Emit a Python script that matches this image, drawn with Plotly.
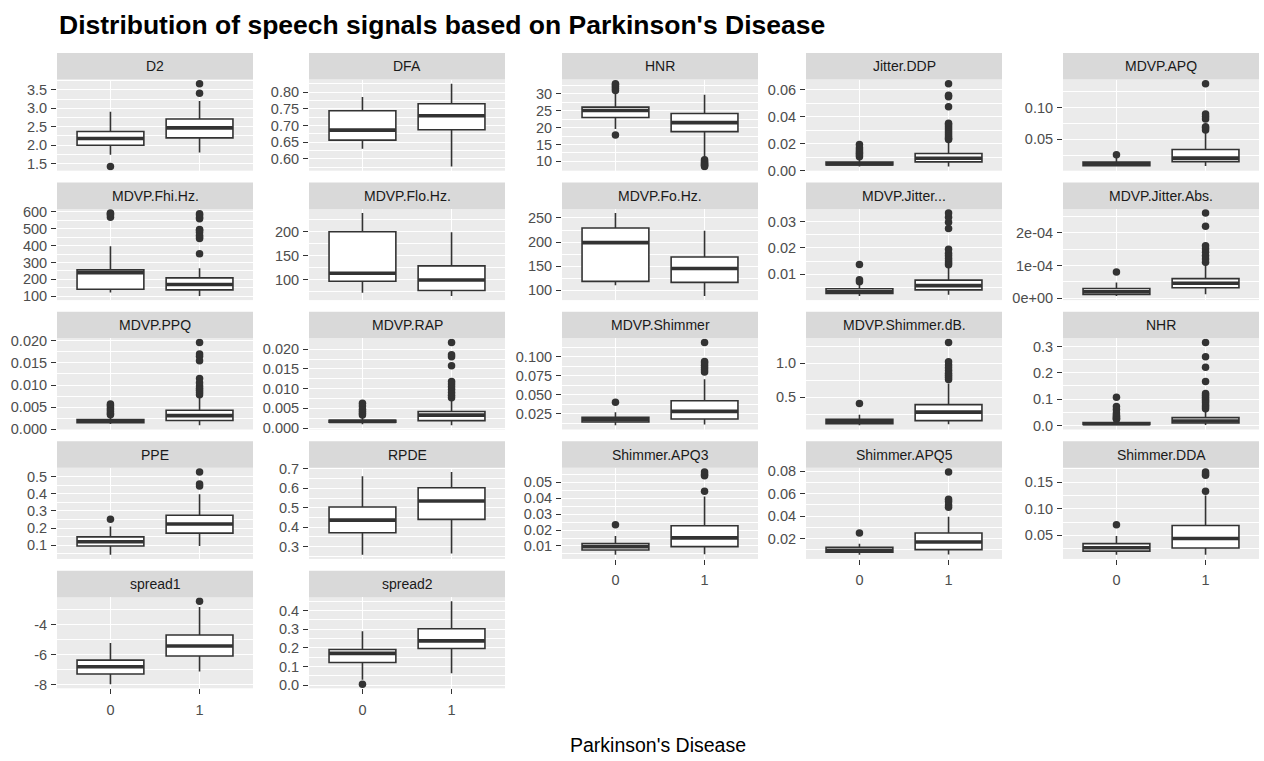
import plotly.graph_objects as go

# Speech features (facet order) and summary statistics per Parkinson's status
features = [
    "D2", "DFA", "HNR", "Jitter.DDP", "MDVP.APQ",
    "MDVP.Fhi.Hz.", "MDVP.Flo.Hz.", "MDVP.Fo.Hz.", "MDVP.Jitter...", "MDVP.Jitter.Abs.",
    "MDVP.PPQ", "MDVP.RAP", "MDVP.Shimmer", "MDVP.Shimmer.dB.", "NHR",
    "PPE", "RPDE", "Shimmer.APQ3", "Shimmer.APQ5", "Shimmer.DDA",
    "spread1", "spread2",
]
status_labels = ["0", "1"]

# status 0 (healthy)
h_low = [1.74, 0.630, 19.6, 0.0030, 0.0072, 123, 72, 110.7, 0.00178, 7e-6,
         0.0012, 0.0010, 0.0095, 0.085, 0.0007, 0.045, 0.257, 0.0045, 0.0057, 0.0136,
         -7.96, 0.030]
h_q1 = [2.00, 0.656, 23.0, 0.0042, 0.0085, 142, 96.4, 118.6, 0.0027, 1.2e-5,
        0.0015, 0.0015, 0.0140, 0.110, 0.0040, 0.096, 0.371, 0.0075, 0.0080, 0.0205,
        -7.28, 0.122]
h_med = [2.18, 0.686, 25.1, 0.0049, 0.0110, 239, 113, 198.9, 0.0034, 2.0e-5,
         0.0019, 0.0017, 0.0170, 0.145, 0.0066, 0.121, 0.436, 0.0096, 0.0097, 0.0269,
         -6.80, 0.171]
h_q3 = [2.37, 0.744, 26.1, 0.0063, 0.0142, 256, 200, 229.1, 0.0045, 3.0e-5,
        0.0022, 0.0020, 0.0200, 0.175, 0.0110, 0.149, 0.504, 0.0116, 0.0124, 0.0346,
        -6.36, 0.192]
h_high = [2.91, 0.785, 30.4, 0.0093, 0.0205, 396, 239.2, 260.1, 0.0066, 4.8e-5,
          0.0029, 0.0028, 0.0267, 0.240, 0.0210, 0.209, 0.663, 0.0162, 0.0156, 0.0487,
          -5.22, 0.289]
h_out = [
    [1.42], [], [17.8, 31.0, 31.6, 32.2, 32.7, 33.05],
    [0.0103, 0.0115, 0.0128, 0.0140, 0.0155, 0.0170, 0.0194], [0.0258],
    [568, 580, 588, 592], [], [], [0.0072, 0.0079, 0.0137], [8.0e-5],
    [0.0033, 0.0036, 0.0040, 0.0045, 0.0049, 0.0054, 0.0057],
    [0.0033, 0.0038, 0.0043, 0.0048, 0.0056, 0.0063], [0.0402], [0.405],
    [0.024, 0.027, 0.030, 0.035, 0.040, 0.048, 0.061, 0.072, 0.107],
    [0.252], [], [0.0233], [0.0250], [0.070],
    [], [0.0063],
]

# status 1 (Parkinson's)
p_low = [1.80, 0.577, 11.2, 0.0031, 0.0080, 102, 65.5, 88.3, 0.0022, 1.2e-5,
         0.0009, 0.0007, 0.0105, 0.100, 0.0023, 0.096, 0.263, 0.0049, 0.0060, 0.0136,
         -7.12, 0.065]
p_q1 = [2.20, 0.687, 18.8, 0.0065, 0.0150, 138, 77, 116.5, 0.0041, 3.2e-5,
        0.0020, 0.0019, 0.0180, 0.155, 0.0095, 0.171, 0.440, 0.0096, 0.0103, 0.0263,
        -6.08, 0.197]
p_med = [2.47, 0.729, 21.5, 0.0092, 0.0205, 170, 99, 145.2, 0.0057, 4.6e-5,
         0.0031, 0.0033, 0.0280, 0.280, 0.0170, 0.224, 0.535, 0.0151, 0.0170, 0.0442,
         -5.42, 0.238]
p_q3 = [2.71, 0.765, 24.2, 0.0127, 0.0340, 209, 128.6, 169.1, 0.0078, 6.0e-5,
        0.0043, 0.0042, 0.0420, 0.390, 0.0300, 0.275, 0.603, 0.0227, 0.0250, 0.0686,
        -4.68, 0.303]
p_high = [3.20, 0.825, 29.8, 0.0215, 0.0600, 266, 199, 223.4, 0.0128, 1.03e-4,
          0.0072, 0.0071, 0.0703, 0.700, 0.058, 0.397, 0.685, 0.0410, 0.0396, 0.125,
          -2.82, 0.450]
p_out = [
    [3.41, 3.67], [], [10.5, 10.0, 9.6, 9.3, 9.0, 8.8, 8.44],
    [0.0230, 0.0240, 0.0250, 0.0265, 0.0280, 0.0295, 0.0310, 0.0325, 0.0340, 0.0350,
     0.0474, 0.0547, 0.0559, 0.0644],
    [0.0650, 0.0680, 0.0700, 0.0820, 0.0860, 0.0900, 0.1378],
    [351, 442, 450, 461, 478, 490, 495, 558, 566, 581, 588], [], [],
    [0.0136, 0.0143, 0.0150, 0.0160, 0.0170, 0.0180, 0.0195, 0.0274, 0.0297, 0.0316, 0.0332],
    [1.1e-4, 1.2e-4, 1.3e-4, 1.4e-4, 1.5e-4, 1.6e-4, 2.2e-4, 2.6e-4],
    [0.0078, 0.0083, 0.0088, 0.0093, 0.0098, 0.0105, 0.0115, 0.0155, 0.0165, 0.0170, 0.0196],
    [0.0077, 0.0083, 0.0090, 0.0098, 0.0105, 0.0112, 0.0118, 0.0158, 0.0181, 0.0186, 0.0217],
    [0.080, 0.083, 0.086, 0.089, 0.092, 0.094, 0.119],
    [0.76, 0.79, 0.82, 0.85, 0.89, 0.93, 0.97, 1.02, 1.302],
    [0.064, 0.071, 0.078, 0.086, 0.093, 0.100, 0.107, 0.115, 0.122, 0.167, 0.221, 0.261, 0.315],
    [0.445, 0.457, 0.527], [], [0.0443, 0.0540, 0.0550, 0.0565],
    [0.0480, 0.0500, 0.0530, 0.0550, 0.0794], [0.133, 0.163, 0.166, 0.1694],
    [-2.434], [],
]

# y-axis tick labels for each facet
tick_labels = [
    ["1.5", "2.0", "2.5", "3.0", "3.5"],
    ["0.60", "0.65", "0.70", "0.75", "0.80"],
    ["10", "15", "20", "25", "30"],
    ["0.00", "0.02", "0.04", "0.06"],
    ["0.05", "0.10"],
    ["100", "200", "300", "400", "500", "600"],
    ["100", "150", "200"],
    ["100", "150", "200", "250"],
    ["0.01", "0.02", "0.03"],
    ["0e+00", "1e-04", "2e-04"],
    ["0.000", "0.005", "0.010", "0.015", "0.020"],
    ["0.000", "0.005", "0.010", "0.015", "0.020"],
    ["0.025", "0.050", "0.075", "0.100"],
    ["0.5", "1.0"],
    ["0.0", "0.1", "0.2", "0.3"],
    ["0.1", "0.2", "0.3", "0.4", "0.5"],
    ["0.3", "0.4", "0.5", "0.6", "0.7"],
    ["0.01", "0.02", "0.03", "0.04", "0.05"],
    ["0.02", "0.04", "0.06", "0.08"],
    ["0.05", "0.10", "0.15"],
    ["-8", "-6", "-4"],
    ["0.0", "0.1", "0.2", "0.3", "0.4"],
]

# ---- page geometry (pixels) ----
W, H = 1264, 761
NCOL = 5
col_left = [57, 309, 562, 806, 1063]
panel_w = 196
row_pitch = 132
first_row_top = 47
strip_h = 27
panel_h = 93
box_width = 0.75

FONT = "Liberation Sans, Arial, Helvetica, sans-serif"
INK = "#333333"
TICK_SIZE = 14.5
STRIP_SIZE = 14

fig = go.Figure()
shapes, annotations = [], []
n_feat = len(features)
n_rows = (n_feat + NCOL - 1) // NCOL

for i, name in enumerate(features):
    r, c = divmod(i, NCOL)
    k = i + 1
    xref = "x" if k == 1 else f"x{k}"
    yref = "y" if k == 1 else f"y{k}"

    stats = [
        (h_low[i], h_q1[i], h_med[i], h_q3[i], h_high[i], h_out[i]),
        (p_low[i], p_q1[i], p_med[i], p_q3[i], p_high[i], p_out[i]),
    ]
    for pos, (lo, q1, md, q3, hi, outs) in enumerate(stats):
        fig.add_trace(go.Box(
            x=[pos], q1=[q1], median=[md], q3=[q3], lowerfence=[lo], upperfence=[hi],
            width=box_width, whiskerwidth=0, fillcolor="white",
            line=dict(color=INK, width=1.6), boxpoints=False,
            xaxis=xref, yaxis=yref, hoverinfo="skip", showlegend=False,
        ))
        # heavier median bar
        fig.add_trace(go.Scatter(
            x=[pos - box_width / 2, pos + box_width / 2], y=[md, md], mode="lines",
            line=dict(color=INK, width=3.6), xaxis=xref, yaxis=yref,
            hoverinfo="skip", showlegend=False,
        ))
        if outs:
            fig.add_trace(go.Scatter(
                x=[pos] * len(outs), y=outs, mode="markers",
                marker=dict(size=7.5, color=INK), xaxis=xref, yaxis=yref,
                hoverinfo="skip", showlegend=False,
            ))

    # y range: data extent expanded by 5% each side
    vals = [h_low[i], h_high[i], p_low[i], p_high[i]] + h_out[i] + p_out[i]
    vmin, vmax = min(vals), max(vals)
    pad = 0.05 * (vmax - vmin)
    yr = [vmin - pad, vmax + pad]

    tv = [float(s) for s in tick_labels[i]]
    step = tv[1] - tv[0]
    minor = [tv[0] - step / 2] + [(a + b) / 2 for a, b in zip(tv[:-1], tv[1:])] + [tv[-1] + step / 2]

    top = first_row_top + r * row_pitch
    x0 = col_left[c] / W
    x1 = (col_left[c] + panel_w) / W
    y1 = 1 - (top + strip_h) / H
    y0 = 1 - (top + strip_h + panel_h) / H

    bottom_row = n_rows - 1 if c < n_feat - (n_rows - 1) * NCOL else n_rows - 2
    is_bottom = r == bottom_row

    xkey = "xaxis" if k == 1 else f"xaxis{k}"
    ykey = "yaxis" if k == 1 else f"yaxis{k}"
    fig.layout[xkey] = dict(
        domain=[x0, x1], anchor=yref, range=[-0.6, 1.6],
        tickmode="array", tickvals=[0, 1], ticktext=status_labels,
        showticklabels=is_bottom, ticks="outside" if is_bottom else "",
        ticklen=5, tickwidth=1.1, tickcolor=INK, ticklabelstandoff=3,
        tickfont=dict(family=FONT, size=TICK_SIZE, color="#4D4D4D"),
        showgrid=True, gridcolor="white", gridwidth=1.3,
        zeroline=False, showline=False, fixedrange=True,
    )
    fig.layout[ykey] = dict(
        domain=[y0, y1], anchor=xref, range=yr,
        tickmode="array", tickvals=tv, ticktext=tick_labels[i],
        ticks="outside", ticklen=5, tickwidth=1.1, tickcolor=INK, ticklabelstandoff=1,
        tickfont=dict(family=FONT, size=TICK_SIZE, color="#4D4D4D"),
        showgrid=True, gridcolor="white", gridwidth=1.3,
        minor=dict(tickmode="array", tickvals=minor, showgrid=True,
                   gridcolor="white", gridwidth=0.6, ticks=""),
        zeroline=False, showline=False, fixedrange=True,
    )

    # facet strip
    shapes.append(dict(type="rect", xref="paper", yref="paper",
                       x0=x0, x1=x1, y0=y1, y1=1 - top / H,
                       fillcolor="#D9D9D9", line=dict(width=0), layer="below"))
    annotations.append(dict(xref="paper", yref="paper", x=(x0 + x1) / 2,
                            y=1 - (top + strip_h / 2) / H, text=name, showarrow=False,
                            xanchor="center", yanchor="middle",
                            font=dict(family=FONT, size=STRIP_SIZE, color="#1A1A1A")))

annotations.append(dict(
    xref="paper", yref="paper", x=col_left[0] / W, y=1 - 18 / H,
    text="<b>Distribution of speech signals based on Parkinson's Disease</b>",
    showarrow=False, xanchor="left", yanchor="middle",
    font=dict(family=FONT, size=26.5, color="black"),
))
annotations.append(dict(
    xref="paper", yref="paper",
    x=(col_left[0] + col_left[-1] + panel_w) / 2 / W, y=1 - 753 / H,
    text="Parkinson's Disease", showarrow=False, xanchor="center", yanchor="middle",
    font=dict(family=FONT, size=19.5, color="black"),
))

fig.update_layout(
    width=W, height=H, margin=dict(l=0, r=0, t=0, b=0),
    paper_bgcolor="white", plot_bgcolor="#EBEBEB",
    boxmode="overlay", showlegend=False,
    shapes=shapes, annotations=annotations,
    font=dict(family=FONT),
)

fig.write_html("out.html")
